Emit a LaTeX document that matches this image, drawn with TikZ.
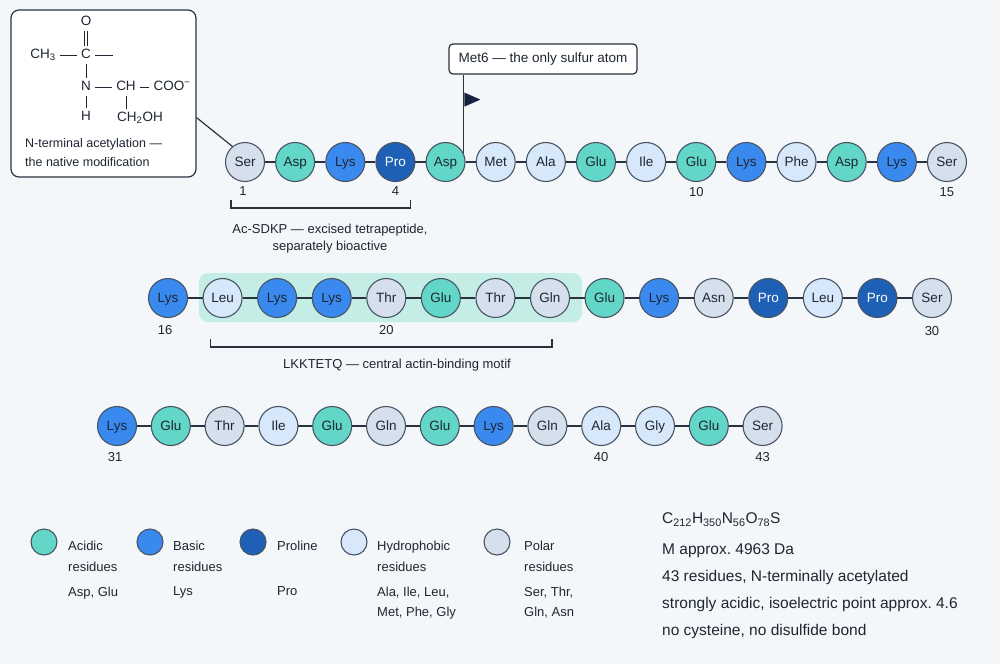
\documentclass[tikz,border=0pt]{standalone}
\usepackage{fontspec}
\setmainfont{Liberation Sans}
\usetikzlibrary{positioning,calc}
\frenchspacing

\definecolor{bgcol}{RGB}{244,247,250}
\definecolor{acidcol}{RGB}{98,215,200}
\definecolor{basiccol}{RGB}{58,137,238}
\definecolor{procol}{RGB}{30,96,182}
\definecolor{hydcol}{RGB}{215,232,250}
\definecolor{polcol}{RGB}{214,224,236}
\definecolor{rimcol}{RGB}{72,84,100}
\definecolor{inkcol}{RGB}{30,38,50}
\definecolor{chaincol}{RGB}{42,50,64}
\definecolor{motifcol}{RGB}{196,237,230}
\definecolor{flagcol}{RGB}{22,34,62}

\tikzset{
  res/.style={circle, draw=rimcol, line width=1.1pt, minimum size=39pt, inner sep=0pt,
    text=inkcol, text height=9.6pt, text depth=0pt, font=\fontsize{13.5}{16}\selectfont},
  acidres/.style={res, fill=acidcol},
  basicres/.style={res, fill=basiccol},
  prores/.style={res, fill=procol, text=white},
  hydres/.style={res, fill=hydcol},
  polres/.style={res, fill=polcol},
  bond/.style={draw=chaincol, line width=1.6pt},
  num/.style={text=inkcol, font=\fontsize{13}{15}\selectfont},
  lbl/.style={text=inkcol, inner sep=0pt, align=center, font=\fontsize{13}{17}\selectfont},
  brack/.style={draw=chaincol, line width=1.2pt},
  notebox/.style={draw=chaincol, line width=1.2pt, fill=white, rounded corners=8pt},
  chem/.style={text=inkcol, inner xsep=4pt, inner ysep=2.5pt, text height=10pt, text depth=3pt,
    font=\fontsize{13.5}{16}\selectfont},
  bondc/.style={draw=inkcol, line width=1pt},
  legtxt/.style={anchor=north west, inner sep=0pt, align=left, text=inkcol, font=\fontsize{13}{21}\selectfont},
  leglist/.style={anchor=north west, inner sep=0pt, align=left, text=inkcol, font=\fontsize{13}{20}\selectfont},
  info/.style={anchor=north west, inner sep=0pt, align=left, text=inkcol, font=\fontsize{15.5}{27}\selectfont}
}

\begin{document}
\begin{tikzpicture}[x=1pt,y=-1pt]
% 背景
\useasboundingbox (0,0) rectangle (1000,664);
\fill[bgcol] (0,0) rectangle (1000,664);

% 乙酰化结构框
\node[notebox, minimum width=185pt, minimum height=167pt] (acbox) at (103.5,93.5) {};
\node[chem] (oxy) at (86,22) {O};
\node[chem] (ch3) at (43,55) {CH\textsubscript{3}};
\node[chem] (cco) at (86,55) {C};
\node[chem] (nit) at (86,87) {N};
\node[chem] (cha) at (126,87) {CH};
\node[chem] (coo) at (172,87) {COO\textsuperscript{−}};
\node[chem] (hyd) at (86,117) {H};
\node[chem] (cho) at (140,118) {CH\textsubscript{2}OH};
\coordinate (free) at (113,55);
\draw[bondc] (ch3) -- (cco);
\draw[bondc] (cco) -- (free);
\draw[bondc] ([xshift=-1.7pt]oxy.south) -- ([xshift=-1.7pt]cco.north);
\draw[bondc] ([xshift=1.7pt]oxy.south) -- ([xshift=1.7pt]cco.north);
\draw[bondc] (cco) -- (nit);
\draw[bondc] (nit) -- (cha);
\draw[bondc] (cha) -- (coo);
\draw[bondc] (nit) -- (hyd);
\draw[bondc] (cha.south) -- (cha.south |- cho.north);
\node[legtxt, font=\fontsize{12.5}{19}\selectfont] (acnote) at (25,138.5) {N-terminal acetylation —\\the native modification};

% 基序底色
\fill[motifcol, rounded corners=9pt] (199,273) rectangle (582,322);

% 第一行
\foreach \aa/\kind [count=\i] in {Ser/polres, Asp/acidres, Lys/basicres, Pro/prores, Asp/acidres,
  Met/hydres, Ala/hydres, Glu/acidres, Ile/hydres, Glu/acidres, Lys/basicres, Phe/hydres,
  Asp/acidres, Lys/basicres, Ser/polres}
  \node[\kind] (r\i) at ({245+(\i-1)*50.14},162) {\aa};
% 第二行
\foreach \aa/\kind [count=\i from 16] in {Lys/basicres, Leu/hydres, Lys/basicres, Lys/basicres,
  Thr/polres, Glu/acidres, Thr/polres, Gln/polres, Glu/acidres, Lys/basicres, Asn/polres,
  Pro/prores, Leu/hydres, Pro/prores, Ser/polres}
  \node[\kind] (r\i) at ({168+(\i-16)*54.57},298) {\aa};
% 第三行
\foreach \aa/\kind [count=\i from 31] in {Lys/basicres, Glu/acidres, Thr/polres, Ile/hydres,
  Glu/acidres, Gln/polres, Glu/acidres, Lys/basicres, Gln/polres, Ala/hydres, Gly/hydres,
  Glu/acidres, Ser/polres}
  \node[\kind] (r\i) at ({117+(\i-31)*53.8},426) {\aa};

% 肽键
\foreach \ib [remember=\ib as \ia (initially 1)] in {2,...,15}
  \draw[bond] (r\ia) -- (r\ib);
\foreach \ib [remember=\ib as \ia (initially 16)] in {17,...,30}
  \draw[bond] (r\ia) -- (r\ib);
\foreach \ib [remember=\ib as \ia (initially 31)] in {32,...,43}
  \draw[bond] (r\ia) -- (r\ib);
\draw[bond, line width=1.2pt] ($(acbox.south east)+(0,-60)$) -- (r1.129);

% 序号
\node[num] (n1) at ($(r1)+(-2,29)$) {1};
\node[num] (n4) at ($(r4)+(0,29)$) {4};
\node[num] (n10) at ($(r10)+(0,30)$) {10};
\node[num] (n15) at ($(r15)+(0,30)$) {15};
\node[num] (n16) at ($(r16)+(-3,32)$) {16};
\node[num] (n20) at ($(r20)+(0,32)$) {20};
\node[num] (n30) at ($(r30)+(0,33)$) {30};
\node[num] (n31) at ($(r31)+(-2,31)$) {31};
\node[num] (n40) at ($(r40)+(0,31)$) {40};
\node[num] (n43) at ($(r43)+(0,31)$) {43};

% 括号与说明
\draw[brack] ($(r1)+(-14,38)$) -- ++(0,8) -| ($(r4)+(15,38)$);
\node[lbl, anchor=north] (sdkp) at (330,223.4) {Ac-SDKP — excised tetrapeptide,\\separately bioactive};
\draw[brack] ($(r17)+(-12,41)$) -- ++(0,8) -| ($(r23)+(2,41)$);
\node[lbl] (motif) at (397,365) {LKKTETQ — central actin-binding motif};

% Met6 旗标
\node[notebox, rounded corners=4pt, minimum width=188pt, minimum height=30pt, text=inkcol,
  font=\fontsize{13.5}{16}\selectfont] (metbox) at (543,59) {Met6 — the only sulfur atom};
\coordinate (pole) at (r5.27 |- metbox.south);
\draw[brack] (r5.27) -- (pole);
\fill[flagcol] ($(pole)+(1,18)$) -- ++(16,7) -- ++(-16,7) -- cycle;

% 图例
\foreach \cx/\tx/\kind/\ttl/\lst [count=\j] in {
  44/68/acidres/{Acidic\\residues}/{Asp, Glu},
  150/173/basicres/{Basic\\residues}/{Lys},
  253/277/prores/{Proline}/{Pro},
  354/377/hydres/{Hydrophobic\\residues}/{Ala, Ile, Leu,\\Met, Phe, Gly},
  497/524/polres/{Polar\\residues}/{Ser, Thr,\\Gln, Asn}}
{
  \node[\kind, minimum size=26pt] (key\j) at (\cx,542) {};
  \node[legtxt] (keyt\j) at (\tx,540.4) {\ttl};
  \node[leglist] (keyl\j) at (\tx,586.4) {\lst};
}

% 分子信息
\node[info] (facts) at (662,512.4) {C\textsubscript{212}H\textsubscript{350}N\textsubscript{56}O\textsubscript{78}S\\[4pt]
  M approx. 4963 Da\\ 43 residues, N-terminally acetylated\\
  strongly acidic, isoelectric point approx. 4.6\\ no cysteine, no disulfide bond};
\end{tikzpicture}
\end{document}
